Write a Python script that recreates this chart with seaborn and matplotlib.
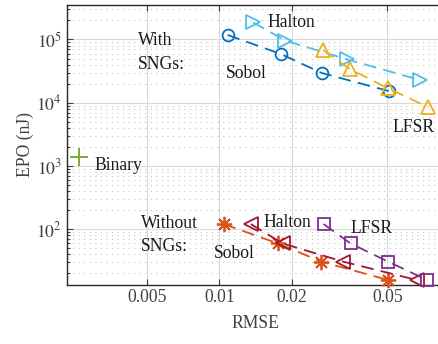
import numpy as np
import pandas as pd
import seaborn as sns
import matplotlib.pyplot as plt
from matplotlib.ticker import FixedLocator, LogLocator, NullLocator, NullFormatter

# ---- data (RMSE vs EPO) ----
sobol_rmse = [0.0108, 0.0180, 0.0266, 0.0506]
sobol_epo = [1.18e5, 5.9e4, 2.96e4, 1.53e4]
halton_rmse = [0.0138, 0.0188, 0.0338, 0.0682]
halton_epo = [1.86e5, 9.6e4, 4.87e4, 2.29e4]
lfsr_rmse = [0.0270, 0.0348, 0.0503, 0.0739]
lfsr_epo = [6.8e4, 3.42e4, 1.69e4, 8.5e3]

sobol_rmse_wo = [0.0104, 0.0175, 0.0265, 0.0503]
halton_rmse_wo = [0.0135, 0.0183, 0.0327, 0.0661]
lfsr_rmse_wo = [0.0271, 0.0351, 0.0503, 0.0731]
epo_wo = [121, 59.7, 30.8, 15.8]

binary_rmse = [0.0026]
binary_epo = [1380]

xticks = [0.005, 0.01, 0.02, 0.05]
xticklabels = ['0.005', '0.01', '0.02', '0.05']
yticks = [1e2, 1e3, 1e4, 1e5]
yticklabels = ['$10^{2}$', '$10^{3}$', '$10^{4}$', '$10^{5}$']

sns.set_theme(style='ticks')
plt.rcParams['font.family'] = ['Liberation Serif', 'DejaVu Serif']
plt.rcParams['mathtext.fontset'] = 'stix'
FS = 12.7

fig = plt.figure(figsize=(4.38, 3.44), dpi=100)
ax = fig.add_axes([67 / 438, 1 - 284.5 / 344, (443 - 67) / 438, 279.5 / 344])

series = [
    (sobol_rmse, sobol_epo, '#0072BD', 'o', 8.5),
    (halton_rmse, halton_epo, '#4DBEEE', '>', 10),
    (lfsr_rmse, lfsr_epo, '#EDB120', '^', 10),
    (sobol_rmse_wo, epo_wo, '#D95319', (8, 2, 0), 11),
    (halton_rmse_wo, epo_wo, '#A2142F', '<', 10),
    (lfsr_rmse_wo, epo_wo, '#7E2F8E', 's', 8),
]
for xs, ys, col, mk, ms in series:
    df = pd.DataFrame({'RMSE': xs, 'EPO': ys})
    sns.lineplot(data=df, x='RMSE', y='EPO', ax=ax, color=col, marker=mk,
                 markersize=ms, mfc='none', mec=col, mew=1.3, lw=1.3,
                 linestyle=(0, (7, 4)), clip_on=False, zorder=3)

bdf = pd.DataFrame({'RMSE': binary_rmse, 'EPO': binary_epo})
sns.scatterplot(data=bdf, x='RMSE', y='EPO', ax=ax, marker='+', s=150,
                color='#77AC30', linewidth=1.4, zorder=3)

ax.set_xscale('log')
ax.set_yscale('log')
ax.set_xlim(0.00232, 0.0851)
ax.set_ylim(13.4, 3.51e5)

ax.xaxis.set_major_locator(FixedLocator(xticks))
ax.set_xticklabels(xticklabels)
ax.xaxis.set_minor_locator(NullLocator())
ax.yaxis.set_major_locator(FixedLocator(yticks))
ax.set_yticklabels(yticklabels)
ax.yaxis.set_minor_locator(LogLocator(base=10, subs=np.arange(2, 10)))
ax.yaxis.set_minor_formatter(NullFormatter())

ax.grid(True, which='major', color='#dadada', lw=0.8, ls='-')
ax.grid(False, which='minor', axis='x')
ax.yaxis.grid(True, which='minor', color='#c4c4c4', lw=0.8, ls=(0, (1, 4)))
ax.set_axisbelow(True)

ax.tick_params(which='both', direction='in', top=True, right=False,
               colors='#404040', labelsize=FS, width=0.8)
ax.tick_params(which='major', length=4)
ax.tick_params(which='minor', length=2.5)
for side in ['left', 'bottom', 'top']:
    ax.spines[side].set_color('#262626')
    ax.spines[side].set_linewidth(1.0)
ax.spines['right'].set_visible(False)

ax.set_xlabel('RMSE', fontsize=FS, color='#404040', labelpad=6)
ax.set_ylabel('EPO (nJ)', fontsize=FS, color='#404040', labelpad=2)

labels = [
    (0.00459, 8.19e4, 'With'), (0.00459, 3.36e4, 'SNGs:'),
    (0.01584, 1.575e5, 'Halton'), (0.01058, 2.47e4, 'Sobol'),
    (0.0526, 3.46e3, 'LFSR'), (0.00301, 867, 'Binary'),
    (0.00472, 105, 'Without'), (0.00472, 44.8, 'SNGs:'),
    (0.01525, 109, 'Halton'), (0.00952, 35.3, 'Sobol'),
    (0.0352, 87.7, 'LFSR'),
]
for x, y, s in labels:
    ax.text(x, y, s, fontsize=FS, color='#1a1a1a', ha='left', va='baseline', zorder=4)

fig.savefig('out.png', dpi=100)
